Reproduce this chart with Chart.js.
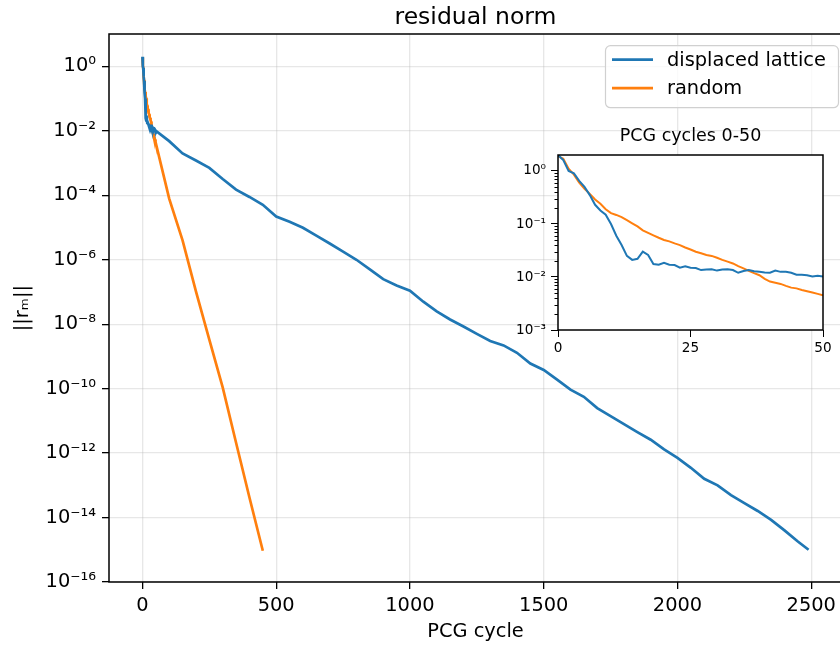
<!DOCTYPE html>
<html>
<head>
<meta charset="utf-8">
<script src="https://cdn.jsdelivr.net/npm/chart.js@4.4.0/dist/chart.umd.min.js"></script>
<style>
    html, body { margin: 0; padding: 0; overflow: hidden; background: #fff; }
    #wrap { position: relative; width: 840px; height: 647px; overflow: hidden; }
    #main { position: absolute; left: 0; top: 0; }
    #inset { position: absolute; left: 490px; top: 120px; }
</style>
</head>
<body>
<div id="wrap">
    <canvas id="main" width="846" height="647"></canvas>
    <canvas id="inset" width="350" height="250"></canvas>
</div>
<script>
var seriesNames = ['displaced lattice', 'random'];
var seriesColors = ['#1f77b4', '#ff7f0e'];

// first 50 PCG cycles (shown in the inset, also start of the main curves)
var earlyCycles = [0, 1, 2, 3, 4, 5, 6, 7, 8, 9, 10, 11, 12, 13, 14, 15, 16, 17, 18, 19, 20,
    21, 22, 23, 24, 25, 26, 27, 28, 29, 30, 31, 32, 33, 34, 35, 36, 37, 38, 39, 40,
    41, 42, 43, 44, 45, 46, 47, 48, 49, 50];
var latticeEarly = [2.0, 1.6, 1.0, 0.9, 0.65, 0.5, 0.35, 0.23, 0.18, 0.15, 0.1,
    0.06, 0.04, 0.025, 0.021, 0.022, 0.03, 0.026, 0.0175, 0.017, 0.0185,
    0.017, 0.0168, 0.015, 0.016, 0.015, 0.0148, 0.0135, 0.0138, 0.014, 0.0132,
    0.0138, 0.014, 0.0135, 0.012, 0.013, 0.0135, 0.0128, 0.0125, 0.0122, 0.012,
    0.0132, 0.0125, 0.0126, 0.012, 0.011, 0.011, 0.0108, 0.0102, 0.0105, 0.0102];
var randomEarly = [1.9, 1.7, 1.1, 0.85, 0.6, 0.46, 0.37, 0.29, 0.24, 0.19, 0.16,
    0.148, 0.135, 0.118, 0.103, 0.09, 0.076, 0.068, 0.061, 0.055, 0.05,
    0.047, 0.043, 0.04, 0.036, 0.033, 0.03, 0.028, 0.026, 0.025, 0.023,
    0.021, 0.0195, 0.018, 0.016, 0.0145, 0.013, 0.0118, 0.0108, 0.0092, 0.0082,
    0.0078, 0.0074, 0.0068, 0.0063, 0.0061, 0.0057, 0.0054, 0.0051, 0.0048, 0.0045];

// later cycles for the main plot
var latticeCycles = [100, 150, 200, 250, 300, 350, 400, 450, 500, 550, 600, 650, 700, 750,
    800, 850, 900, 950, 1000, 1050, 1100, 1150, 1200, 1250, 1300, 1350, 1400, 1450,
    1500, 1550, 1600, 1650, 1700, 1750, 1800, 1850, 1900, 1950, 2000, 2050, 2100,
    2150, 2200, 2250, 2300, 2350, 2400, 2450, 2490];
var latticeLate = [4.8e-3, 2.0e-3, 1.2e-3, 7.1e-4, 3.2e-4, 1.5e-4, 8.9e-5, 5.1e-5,
    2.2e-5, 1.5e-5, 9.8e-6, 5.6e-6, 3.2e-6, 1.8e-6, 1.0e-6, 5.0e-7, 2.5e-7, 1.6e-7,
    1.1e-7, 5.0e-8, 2.5e-8, 1.4e-8, 8.5e-9, 5.0e-9, 3.0e-9, 2.2e-9, 1.3e-9, 6.0e-10,
    3.8e-10, 1.9e-10, 9.3e-11, 5.6e-11, 2.5e-11, 1.4e-11, 7.9e-12, 4.5e-12, 2.6e-12,
    1.3e-12, 7.1e-13, 3.5e-13, 1.6e-13, 1.0e-13, 5.0e-14, 2.8e-14, 1.6e-14, 8.5e-15,
    4.0e-15, 1.8e-15, 1.0e-15];
var randomCycles = [100, 150, 200, 250, 300, 350, 400, 450];
var randomLate = [7.9e-5, 4.0e-6, 1.05e-7, 3.3e-9, 1.1e-10, 2.1e-12, 4.2e-14, 9.3e-16];

var mainXTicks = [0, 500, 1000, 1500, 2000, 2500];
var mainYExponents = [0, -2, -4, -6, -8, -10, -12, -14, -16];
var insetXTicks = [0, 25, 50];
var insetYExponents = [0, -1, -2, -3];

var FONT = 'DejaVu Sans';
var GRID = 'rgba(176,176,176,0.3)';

function pts(xs, ys) {
    return xs.map(function(x, i) { return { x: x, y: ys[i] }; });
}

function sup(n) {
    var m = { '-': '\u207B', '0': '\u2070', '1': '\u00B9', '2': '\u00B2', '3': '\u00B3',
        '4': '\u2074', '5': '\u2075', '6': '\u2076', '7': '\u2077', '8': '\u2078', '9': '\u2079' };
    return String(n).split('').map(function(c) { return m[c]; }).join('');
}

function powLabel(v) {
    return '10' + sup(Math.round(Math.log10(v)));
}

function plainLabel(v) {
    return String(v);
}

var framePlugin = {
    id: 'frame',
    beforeDraw: function(chart, args, opts) {
        if (!opts.fill) return;
        var a = chart.chartArea, ctx = chart.ctx;
        ctx.save();
        ctx.fillStyle = opts.fill;
        ctx.fillRect(a.left, a.top, a.right - a.left, a.bottom - a.top);
        ctx.restore();
    },
    afterDraw: function(chart) {
        var a = chart.chartArea, ctx = chart.ctx;
        ctx.save();
        ctx.strokeStyle = '#000';
        ctx.lineWidth = 1.5;
        ctx.strokeRect(Math.round(a.left), Math.round(a.top),
            Math.round(a.right - a.left), Math.round(a.bottom - a.top));
        ctx.restore();
    }
};

var boxLegend = {
    id: 'boxLegend',
    afterDraw: function(chart) {
        var ctx = chart.ctx, a = chart.chartArea;
        var x0 = a.right - 237, y0 = a.top + 11, w = 233, h = 62;
        ctx.save();
        ctx.beginPath();
        ctx.roundRect(x0 + 0.5, y0 + 0.5, w, h, 5);
        ctx.fillStyle = 'rgba(255,255,255,0.8)';
        ctx.fill();
        ctx.strokeStyle = '#d0d0d0';
        ctx.lineWidth = 1.2;
        ctx.stroke();
        ctx.font = '19.4px "' + FONT + '"';
        ctx.textBaseline = 'middle';
        chart.data.datasets.forEach(function(ds, i) {
            var y = y0 + 14.5 + i * 28.5;
            ctx.strokeStyle = ds.borderColor;
            ctx.lineWidth = 2.7;
            ctx.beginPath();
            ctx.moveTo(x0 + 7, y);
            ctx.lineTo(x0 + 48, y);
            ctx.stroke();
            ctx.fillStyle = '#000';
            ctx.fillText(ds.label, x0 + 62, y + 1);
        });
        ctx.restore();
    }
};

var minorTicks = {
    id: 'minorTicks',
    afterDraw: function(chart) {
        var s = chart.scales.y, ctx = chart.ctx;
        var left = Math.round(chart.chartArea.left);
        ctx.save();
        ctx.strokeStyle = '#000';
        ctx.lineWidth = 1;
        for (var e = -3; e < 0; e++) {
            for (var k = 2; k <= 9; k++) {
                var py = Math.round(s.getPixelForValue(k * Math.pow(10, e))) + 0.5;
                ctx.beginPath();
                ctx.moveTo(left - 3.5, py);
                ctx.lineTo(left, py);
                ctx.stroke();
            }
        }
        ctx.restore();
    }
};

var mainChart = new Chart(document.getElementById('main'), {
    type: 'line',
    data: {
        datasets: [{
            label: seriesNames[0],
            data: pts(earlyCycles, latticeEarly).concat(pts(latticeCycles, latticeLate)),
            borderColor: seriesColors[0],
            borderWidth: 2.7,
            pointRadius: 0,
            tension: 0
        }, {
            label: seriesNames[1],
            data: pts(earlyCycles, randomEarly).concat(pts(randomCycles, randomLate)),
            borderColor: seriesColors[1],
            borderWidth: 2.7,
            pointRadius: 0,
            tension: 0
        }]
    },
    options: {
        responsive: false,
        animation: false,
        layout: { padding: { left: 0, right: 4, top: 0, bottom: 0 } },
        plugins: {
            legend: { display: false },
            tooltip: { enabled: false },
            title: {
                display: true,
                text: 'residual norm',
                fullSize: false,
                color: '#000',
                font: { family: FONT, size: 23.5, weight: 'normal', lineHeight: 1.2 },
                padding: { top: 4, bottom: 2 }
            }
        },
        scales: {
            x: {
                type: 'linear',
                min: -125,
                max: 2615,
                afterBuildTicks: function(s) { s.ticks = mainXTicks.map(function(v) { return { value: v }; }); },
                afterFit: function(s) { s.height = 65; },
                grid: { color: GRID, lineWidth: 1.3, tickColor: '#000', tickLength: 7 },
                border: { display: false },
                ticks: { color: '#000', font: { family: FONT, size: 19.4 }, padding: 5, maxRotation: 0, autoSkip: false, callback: plainLabel },
                title: { display: true, text: 'PCG cycle', color: '#000', font: { family: FONT, size: 19.4 }, padding: { top: 0, bottom: 3 } }
            },
            y: {
                type: 'logarithmic',
                min: 1e-16,
                max: 10,
                afterBuildTicks: function(s) { s.ticks = mainYExponents.map(function(e) { return { value: Number('1e' + e) }; }); },
                afterFit: function(s) { s.width = 109; },
                grid: { color: GRID, lineWidth: 1.3, tickColor: '#000', tickLength: 7 },
                border: { display: false },
                ticks: { color: '#000', font: { family: FONT, size: 19.4 }, padding: 6, autoSkip: false, callback: powLabel },
                title: { display: true, text: '||r\u2098||', color: '#000', font: { family: FONT, size: 19.4 }, padding: { top: 11, bottom: 0 } }
            }
        }
    },
    plugins: [framePlugin, boxLegend]
});

var insetChart = new Chart(document.getElementById('inset'), {
    type: 'line',
    data: {
        datasets: [{
            label: seriesNames[0],
            data: pts(earlyCycles, latticeEarly),
            borderColor: seriesColors[0],
            borderWidth: 2,
            pointRadius: 0,
            tension: 0
        }, {
            label: seriesNames[1],
            data: pts(earlyCycles, randomEarly),
            borderColor: seriesColors[1],
            borderWidth: 2,
            pointRadius: 0,
            tension: 0
        }]
    },
    options: {
        responsive: false,
        animation: false,
        layout: { padding: { left: 0, right: 17, top: 0, bottom: 0 } },
        plugins: {
            legend: { display: false },
            tooltip: { enabled: false },
            title: {
                display: true,
                text: 'PCG cycles 0-50',
                fullSize: false,
                color: '#000',
                font: { family: FONT, size: 17.5, weight: 'normal', lineHeight: 1.2 },
                padding: { top: 6, bottom: 8 }
            },
            frame: { fill: '#ffffff' }
        },
        scales: {
            x: {
                type: 'linear',
                min: 0,
                max: 50,
                afterBuildTicks: function(s) { s.ticks = insetXTicks.map(function(v) { return { value: v }; }); },
                afterFit: function(s) { s.height = 40; },
                grid: { color: 'rgba(0,0,0,0)', tickColor: '#000', tickLength: 7 },
                border: { display: false },
                ticks: { color: '#000', font: { family: FONT, size: 13.6 }, padding: 3, maxRotation: 0, autoSkip: false, callback: plainLabel }
            },
            y: {
                type: 'logarithmic',
                min: 1e-3,
                max: 2,
                afterBuildTicks: function(s) { s.ticks = insetYExponents.map(function(e) { return { value: Number('1e' + e) }; }); },
                afterFit: function(s) { s.width = 68; },
                grid: { color: 'rgba(0,0,0,0)', tickColor: '#000', tickLength: 7 },
                border: { display: false },
                ticks: { color: '#000', font: { family: FONT, size: 13.6 }, padding: 5, autoSkip: false, callback: powLabel }
            }
        }
    },
    plugins: [framePlugin, minorTicks]
});
</script>
</body>
</html>
